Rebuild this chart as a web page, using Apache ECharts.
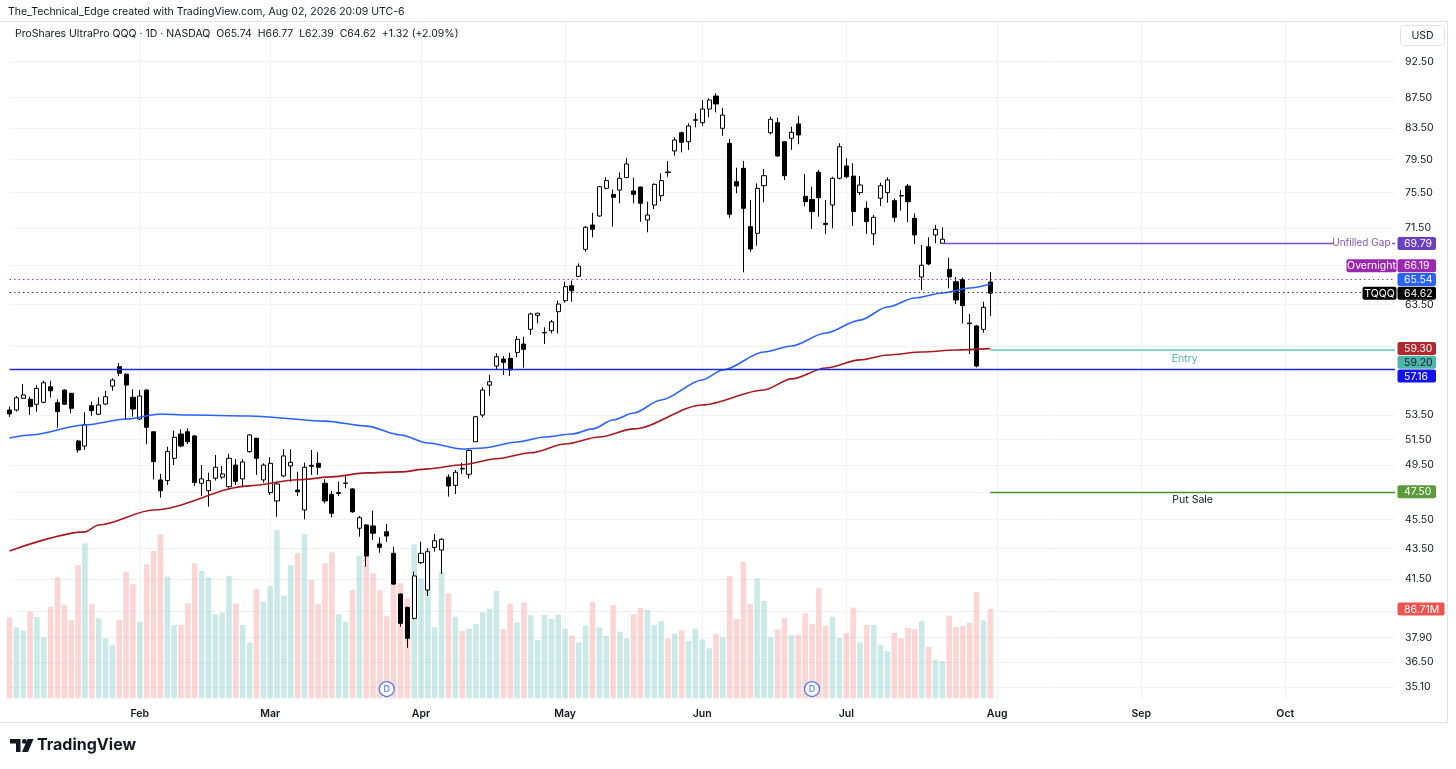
<!DOCTYPE html>
<html><head><meta charset="utf-8">
<script src="https://cdn.jsdelivr.net/npm/echarts@6/dist/echarts.min.js"></script>
<style>html,body{margin:0;padding:0;background:#fff}#c{width:1456px;height:769px}</style>
</head><body><div id="c"></div>
<script>
// ---------------- data ----------------
const SYMBOL = 'TQQQ';
const START_DATE = '2026-01-05';
const CATEGORY_COUNT = 203;
const HOLIDAYS = ['2026-01-19','2026-02-16','2026-04-03','2026-05-25','2026-06-19','2026-07-03','2026-09-07'];
const MONTH_LABELS = ['Jan','Feb','Mar','Apr','May','Jun','Jul','Aug','Sep','Oct','Nov','Dec'];

const opens = [53.92,53.92,54.90,54.82,54.40,54.57,55.89,54.53,55.61,55.33,
51.39,50.99,54.28,53.56,54.42,55.95,57.66,56.99,54.99,53.17,
55.61,52.13,48.38,48.33,50.03,51.95,52.13,51.79,48.13,47.58,
48.51,48.59,47.88,49.51,48.46,50.55,51.61,48.38,47.43,46.83,
48.68,49.44,47.63,46.18,49.49,49.64,48.13,47.31,47.37,48.12,
47.71,44.89,45.12,45.05,43.81,44.65,43.18,40.54,39.71,39.04,
42.56,40.79,43.58,43.40,48.59,47.97,49.26,48.81,51.33,53.50,
56.04,57.72,58.35,58.41,58.95,59.72,61.10,62.44,60.76,60.97,
62.79,63.87,65.37,66.33,69.16,71.82,72.83,76.02,75.31,75.82,
77.31,75.70,76.17,72.38,74.08,75.15,77.97,80.55,82.86,81.71,
84.47,84.16,85.96,87.71,83.43,81.51,76.81,78.41,71.64,70.90,
76.33,82.86,84.16,81.71,82.15,84.00,75.09,74.72,77.94,71.99,
74.08,77.21,78.70,77.48,75.51,73.70,70.84,74.86,75.51,74.58,
75.18,76.29,72.57,66.26,69.44,70.72,69.81,67.05,65.78,66.01,
61.70,61.42,61.10,65.74];
const closes = [53.59,54.95,55.19,54.20,55.76,56.24,55.55,53.78,54.40,54.06,
50.68,52.73,53.86,54.34,55.04,56.48,57.08,56.04,54.00,55.10,
52.49,49.77,47.58,50.55,51.69,50.99,51.33,48.18,48.46,48.33,
49.34,48.83,50.03,48.27,49.75,51.87,50.03,49.51,49.64,48.08,
50.21,49.72,47.51,49.34,49.42,49.34,46.83,45.94,47.45,48.15,
46.05,45.63,43.00,44.54,43.58,44.35,41.17,38.74,37.85,41.69,
43.18,43.29,44.03,44.13,47.93,48.96,49.21,50.64,53.36,55.61,
56.33,58.56,58.05,57.37,60.16,59.23,62.57,62.64,60.81,61.82,
63.54,65.27,64.87,67.38,71.56,71.34,76.21,76.93,74.97,77.21,
78.94,75.31,74.28,72.94,76.49,76.93,77.91,81.93,81.64,83.73,
84.55,85.96,87.17,86.63,85.16,73.02,76.29,73.70,69.20,76.02,
77.52,84.60,79.93,77.52,82.92,82.57,74.46,73.32,74.92,71.88,
77.21,81.08,77.40,73.32,76.41,72.19,72.68,76.33,77.01,72.68,
75.12,74.46,70.72,67.48,67.61,71.34,70.25,66.26,63.94,63.38,
61.64,57.72,63.22,64.62];
const lows = [53.34,53.78,54.84,53.50,53.78,54.48,54.96,52.46,54.34,53.64,
50.47,50.68,53.44,53.50,54.34,55.55,56.84,53.09,53.36,53.09,
51.13,48.43,47.07,48.01,49.51,50.89,51.15,47.93,47.19,46.42,
48.33,48.43,47.68,48.01,47.82,50.47,48.76,48.18,47.26,45.70,
48.59,48.25,47.19,45.52,48.76,48.76,46.66,45.65,47.19,47.76,
45.98,44.31,42.30,44.08,43.22,43.96,41.11,38.54,37.30,38.98,
42.47,40.42,43.29,41.82,47.15,47.34,48.83,48.48,51.33,53.31,
55.10,57.37,56.93,56.84,58.51,57.57,60.57,61.67,59.72,60.72,
60.72,63.67,63.77,66.26,68.91,70.47,72.75,75.90,71.64,74.28,
77.21,74.28,72.19,71.01,73.62,74.54,77.40,79.96,80.38,80.68,
83.56,83.77,84.86,85.52,82.48,72.64,75.44,66.74,68.91,69.55,
74.40,82.65,79.84,77.01,80.68,81.40,73.91,71.40,72.75,70.84,
71.45,77.09,77.21,71.71,75.24,70.84,69.63,73.96,74.35,72.13,
73.43,72.13,69.74,64.94,67.48,69.81,69.81,65.11,63.54,61.67,
58.80,57.60,60.78,62.39];
const highs = [54.20,55.10,56.13,55.04,56.04,56.42,56.42,54.82,55.67,55.33,
51.47,53.73,54.62,54.99,55.55,56.63,57.97,57.08,55.67,55.61,
55.67,52.13,48.83,50.94,52.21,52.33,52.41,51.87,49.51,48.93,
50.29,49.44,50.37,49.98,49.95,51.95,51.61,49.64,50.11,48.25,
50.74,50.74,49.00,49.69,50.68,50.50,48.43,47.56,48.25,48.76,
47.76,45.75,45.19,46.13,44.26,45.19,43.62,40.58,39.75,41.97,
43.96,43.51,44.49,44.20,48.80,49.13,49.70,50.78,53.42,55.85,
56.93,58.87,58.62,58.92,60.47,60.40,62.69,62.69,61.29,61.99,
63.87,65.78,65.88,67.67,71.71,73.20,76.29,77.34,75.88,77.91,
79.64,77.28,76.21,74.46,76.61,77.81,79.31,82.28,82.99,84.08,
85.39,87.17,87.40,88.08,86.13,82.06,78.49,79.31,74.66,76.61,
78.33,84.94,84.81,81.71,83.64,85.07,77.72,76.21,78.21,74.66,
77.40,81.51,79.64,79.04,77.48,74.46,72.94,76.69,77.34,74.86,
75.82,76.53,73.13,69.63,70.47,71.82,71.56,68.28,66.26,66.20,
62.57,61.52,63.77,66.77];
const volumes = [78.3,68.9,65.6,84.1,78.9,59.2,88.9,117.5,90.6,76.0,
129.4,150.5,91.3,77.7,58.3,51.8,76.0,122.9,110.7,74.4,
130.1,143.0,159.2,118.1,71.2,71.2,92.2,131.1,123.6,117.5,
81.6,83.5,118.8,91.9,71.2,54.4,106.1,93.8,108.8,163.4,
99.6,129.4,141.1,159.2,114.9,91.3,131.1,141.8,81.6,74.4,
105.2,138.5,139.8,121.4,104.9,79.6,125.3,111.7,97.1,149.5,
116.5,145.7,68.9,122.9,102.0,79.2,65.3,67.3,72.1,83.5,
86.7,104.2,67.3,91.9,73.8,93.2,80.6,56.6,80.9,77.0,
81.2,67.6,60.8,54.4,70.5,93.8,68.9,60.5,90.6,64.7,
58.3,81.6,87.7,85.7,71.2,75.1,58.3,62.7,66.0,55.6,
67.6,57.3,48.6,62.4,59.2,118.8,77.0,132.6,91.6,116.5,
94.5,59.2,67.0,78.0,61.2,61.8,82.5,72.1,106.8,70.5,
79.2,58.6,63.4,88.0,54.4,71.2,71.2,51.8,45.9,63.4,
58.3,68.3,67.0,75.1,49.8,37.5,36.2,80.2,69.2,70.2,
73.4,103.2,75.7,86.71];
const maBlueIdx = [0,3,11,17,22,26,35,46,52,57,61,66,69,74,78,82,85,88,91,95,101,104,110,114,119,124,128,132,136,140,143];
const maBlueVal = [51.63,51.87,52.68,53.17,53.59,53.50,53.42,53.00,52.59,51.87,51.23,50.76,50.84,51.31,51.71,51.95,52.36,53.09,53.67,54.76,56.49,57.37,58.99,59.54,60.75,61.98,63.25,64.14,64.64,65.14,65.54];
const maRedIdx = [0,11,13,21,35,42,47,52,57,61,66,71,76,81,86,91,101,110,114,119,124,128,133,138,143];
const maRedVal = [43.34,44.64,45.12,46.18,47.94,48.39,48.61,48.91,48.99,49.22,49.53,49.99,50.46,51.15,51.71,52.36,54.34,55.62,56.58,57.55,58.27,58.72,58.99,59.17,59.30];
const dividendIdx = [55,117];
const priceTicks = [92.5,87.5,83.5,79.5,75.5,71.5,67.5,63.5,59.5,53.5,51.5,49.5,47.5,45.5,43.5,41.5,39.5,37.9,36.5,35.1];
const hiddenTickLabels = [67.5,59.5,47.5,39.5];
const GAP_LEVEL = 69.79, OVERNIGHT_LEVEL = 66.19, ENTRY_LEVEL = 59.20, SUPPORT_LEVEL = 57.16, PUT_SALE_LEVEL = 47.50;
const GAP_START_IDX = 136, PLAN_START_IDX = 143;
const PRICE_MIN = 34.40, PRICE_MAX = 98.37, VOL_MAX = 173.1, DIV_MARK_VOL = 9;
const HEADER1 = 'The_Technical_Edge created with TradingView.com, Aug 02, 2026 20:09 UTC-6';
const HEADER2 = 'ProShares UltraPro QQQ · 1D · NASDAQ  O65.74  H66.77  L62.39  C64.62  +1.32 (+2.09%)';

// ---------------- build ----------------
const FONT = 'Inter, Roboto, "Noto Sans", sans-serif';
const L = Math.log;
function tradingDays(){
  const out=[]; const d=new Date(START_DATE+'T12:00:00Z');
  while(out.length<CATEGORY_COUNT){
    const wd=d.getUTCDay(); const s=d.toISOString().slice(0,10);
    if(wd!==0&&wd!==6&&HOLIDAYS.indexOf(s)<0) out.push(s);
    d.setUTCDate(d.getUTCDate()+1);
  }
  return out;
}
const cats = tradingDays();
const monthStart = new Set();
for(let i=1;i<cats.length;i++){ if(cats[i].slice(5,7)!==cats[i-1].slice(5,7)) monthStart.add(i); }

const candleData = opens.map((o,i)=>[L(o),L(closes[i]),L(lows[i]),L(highs[i])]);
function sparse(idx,val){ const a=new Array(opens.length).fill(null); idx.forEach((k,j)=>{a[k]=L(val[j]);}); return a; }
const volData = volumes.map((v,i)=>({value:v,itemStyle:{color: closes[i]>=opens[i] ? 'rgba(38,166,154,0.24)' : 'rgba(239,83,80,0.24)'}}));

const GRID_LEFT = 9.5, GRID_RIGHT = 61;
const tickLn = priceTicks.map(L);
const labelLn = priceTicks.filter(t=>hiddenTickLabels.indexOf(t)<0).map(L);
const GRID_COLOR = '#f0f2f6';

const chart = echarts.init(document.getElementById('c'), null, {renderer:'canvas'});
function seg(i0,i1,v,style){ return [{coord:[cats[i0],L(v)],lineStyle:style},{coord:[cats[i1],L(v)],lineStyle:style}]; }
const option = {
  animation:false,
  backgroundColor:'#ffffff',
  textStyle:{fontFamily:FONT},
  grid:[
    {left:GRID_LEFT,right:GRID_RIGHT,top:22,bottom:69},
    {left:GRID_LEFT,right:GRID_RIGHT,top:520,bottom:70.7}
  ],
  xAxis:[
    {type:'category',gridIndex:0,data:cats,boundaryGap:false,
     axisLine:{show:false},axisTick:{show:false},
     axisLabel:{interval:(i)=>monthStart.has(i),formatter:(v)=>MONTH_LABELS[+v.slice(5,7)-1],
       color:'#131722',fontSize:10.5,fontWeight:600,margin:8,fontFamily:FONT},
     splitLine:{show:true,interval:(i)=>monthStart.has(i),lineStyle:{color:GRID_COLOR,width:1}}},
    {type:'category',gridIndex:1,data:cats,boundaryGap:false,show:false}
  ],
  yAxis:[
    {type:'value',gridIndex:0,position:'right',min:L(PRICE_MIN),max:L(PRICE_MAX),
     axisLine:{show:false},axisTick:{show:false,customValues:tickLn},
     axisLabel:{customValues:labelLn,formatter:(v)=>Math.exp(v).toFixed(2),color:'#131722',fontSize:10.5,margin:10,align:'left',fontFamily:FONT},
     splitLine:{show:true,lineStyle:{color:GRID_COLOR,width:1}}},
    {type:'value',gridIndex:1,min:0,max:VOL_MAX,show:false,splitLine:{show:false}}
  ],
  series:[
    {type:'bar',name:'Volume',xAxisIndex:1,yAxisIndex:1,data:volData,barWidth:5.6,clip:false,silent:true,z:1},
    {type:'scatter',xAxisIndex:1,yAxisIndex:1,data:dividendIdx.map(i=>[cats[i],DIV_MARK_VOL]),symbol:'circle',symbolSize:15,
     itemStyle:{color:'#ffffff',borderColor:'#2962ff',borderWidth:1.3},
     label:{show:true,position:'inside',formatter:'D',color:'#2962ff',fontSize:9,fontWeight:500,fontFamily:FONT},silent:true,z:5},
    {type:'candlestick',name:SYMBOL,xAxisIndex:0,yAxisIndex:0,data:candleData,barWidth:4.6,clip:false,z:3,
     itemStyle:{color:'#ffffff',color0:'#000000',borderColor:'#000000',borderColor0:'#000000',borderWidth:1},
     markLine:{silent:true,symbol:['none','none'],animation:false,label:{show:false},
      data:[
        {yAxis:L(SUPPORT_LEVEL),lineStyle:{color:'#1a2ee6',width:1.3,type:'solid'}},
        {yAxis:L(OVERNIGHT_LEVEL),lineStyle:{color:'#a035c8',width:1.1,type:[1.5,3]}},
        {yAxis:L(closes[closes.length-1]),lineStyle:{color:'#3a3d48',width:1,type:[1.5,3]}},
        seg(GAP_START_IDX,CATEGORY_COUNT-1,GAP_LEVEL,{color:'#7b4fd6',width:1.3,type:'solid'}),
        seg(PLAN_START_IDX,CATEGORY_COUNT-1,ENTRY_LEVEL,{color:'#8ad3ca',width:2,type:'solid'}),
        seg(PLAN_START_IDX,CATEGORY_COUNT-1,PUT_SALE_LEVEL,{color:'#4b8f2c',width:1.4,type:'solid'})
      ]}},
    {type:'line',name:'MA50',xAxisIndex:0,yAxisIndex:0,data:sparse(maBlueIdx,maBlueVal),connectNulls:true,smooth:0.3,smoothMonotone:'x',
     showSymbol:false,symbol:'none',lineStyle:{color:'#2962ff',width:1.6},silent:true,z:4},
    {type:'line',name:'MA200',xAxisIndex:0,yAxisIndex:0,data:sparse(maRedIdx,maRedVal),connectNulls:true,smooth:0.3,smoothMonotone:'x',
     showSymbol:false,symbol:'none',lineStyle:{color:'#a8191f',width:1.6},silent:true,z:4}
  ]
};
chart.setOption(option);

// ---------------- overlay texts placed through the chart's scales ----------------
const W = 1456;
const plotRight = W - GRID_RIGHT;
const gy = v => chart.convertToPixel({yAxisIndex:0}, L(v));
const gx = i => chart.convertToPixel({xAxisIndex:0}, cats[i]);
const g = [];
const Z = 100;
const txt = (x,y,text,opt)=>({type:'text',x:x,y:y,z:Z+1,silent:true,style:Object.assign({text:text,fill:'#131722',font:'10.5px '+FONT,textVerticalAlign:'middle',textAlign:'left'},opt||{})});
const rect = (x,y,w,h,style,r)=>({type:'rect',z:Z,silent:true,shape:{x:x,y:y,width:w,height:h,r:r||0},style:style});
// frame
g.push({type:'line',z:Z,silent:true,shape:{x1:0,y1:21.5,x2:1447.5,y2:21.5},style:{stroke:'#e0e3eb',lineWidth:1}});
g.push({type:'line',z:Z,silent:true,shape:{x1:1447.5,y1:21.5,x2:1447.5,y2:722.5},style:{stroke:'#e0e3eb',lineWidth:1}});
g.push({type:'line',z:Z,silent:true,shape:{x1:0,y1:722.5,x2:1447.5,y2:722.5},style:{stroke:'#e0e3eb',lineWidth:1}});
// headers
g.push(txt(8,12,HEADER1));
g.push(txt(15,33.5,HEADER2));
g.push(rect(1400.5,25.5,44,20,{fill:'#fff',stroke:'#e0e3eb',lineWidth:1},3));
g.push(txt(1422.5,35.5,'USD',{textAlign:'center'}));
// right-side price labels with simple stacking around the last price
const rl = [
  {v:GAP_LEVEL,bg:'#6b3fc2'},
  {v:OVERNIGHT_LEVEL,bg:'#9c27b0',tag:'Overnight',tw:50},
  {v:maBlueVal[maBlueVal.length-1],bg:'#2962ff'},
  {v:closes[closes.length-1],bg:'#000000',tag:SYMBOL,tw:34,anchor:true},
  {v:maRedVal[maRedVal.length-1],bg:'#b2282f'},
  {v:ENTRY_LEVEL,bg:'#4db6ac',fg:'#131722'},
  {v:SUPPORT_LEVEL,bg:'#1212f0'},
  {v:PUT_SALE_LEVEL,bg:'#5a9c3a'}
];
const STEP = 13.7;
rl.forEach(o=>{o.y=gy(o.v);});
const ai = rl.findIndex(o=>o.anchor);
for(let i=ai-1;i>=0;i--) rl[i].y=Math.min(rl[i].y, rl[i+1].y-STEP);
for(let i=ai+1;i<rl.length;i++) rl[i].y=Math.max(rl[i].y, rl[i-1].y+STEP);
// Unfilled gap text on the line
const gapY = gy(GAP_LEVEL);
g.push(rect(1334,gapY-7,58,14,{fill:'#ffffff'}));
g.push(txt(1390.5,gapY,'Unfilled Gap',{textAlign:'right',fill:'#7e57c2',font:'10px '+FONT}));
rl.forEach(o=>{
  g.push(rect(1397.5,o.y-6.5,38.5,13,{fill:o.bg},2));
  g.push(txt(1404,o.y+0.5,o.v.toFixed(2),{fill:o.fg||'#ffffff'}));
  if(o.tag){
    g.push(rect(1396.5-o.tw,o.y-6.5,o.tw,13,{fill:o.bg},2));
    g.push(txt(1396.5-o.tw/2,o.y+0.5,o.tag,{fill:'#ffffff',textAlign:'center'}));
  }
});
// volume last value
const vY = chart.convertToPixel({yAxisIndex:1}, volumes[volumes.length-1]);
g.push(rect(1397.5,vY-6.5,47,13,{fill:'#ef5350'},2));
g.push(txt(1404,vY+0.5,volumes[volumes.length-1].toFixed(2)+'M',{fill:'#ffffff'}));
// plan line texts
const midX = (gx(PLAN_START_IDX)+plotRight)/2;
g.push(txt(midX-8,gy(ENTRY_LEVEL)+9,'Entry',{textAlign:'center',fill:'#4db6ac'}));
g.push(txt(midX,gy(PUT_SALE_LEVEL)+8.5,'Put Sale',{textAlign:'center',fill:'#131722'}));
// footer logo
g.push({type:'polygon',z:Z,silent:true,shape:{points:[[10,739],[20.5,739],[20.5,752],[16,752],[16,743.5],[10,743.5]]},style:{fill:'#131722'}});
g.push({type:'circle',z:Z,silent:true,shape:{cx:24.3,cy:741.4,r:2.4},style:{fill:'#131722'}});
g.push({type:'polygon',z:Z,silent:true,shape:{points:[[27.5,739],[33.5,739],[28,752],[22,752]]},style:{fill:'#131722'}});
g.push(txt(37,745.5,'TradingView',{font:'bold 16px '+FONT,fill:'#131722'}));
chart.setOption({graphic:g});
</script></body></html>
